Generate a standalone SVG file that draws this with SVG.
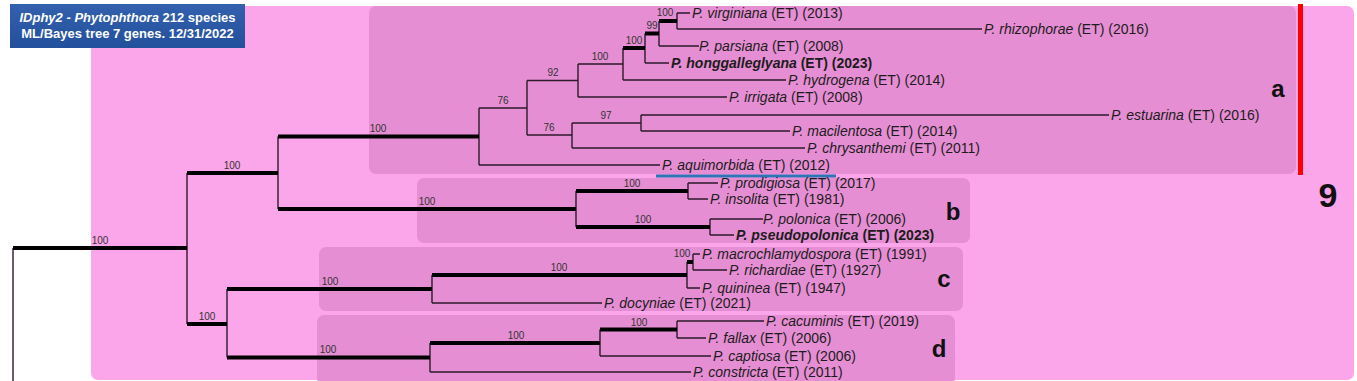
<svg xmlns="http://www.w3.org/2000/svg" width="1357" height="381" viewBox="0 0 1357 381">
<defs>
<linearGradient id="tg" x1="0" y1="0" x2="0" y2="1"><stop offset="0" stop-color="#3461AE"/><stop offset="1" stop-color="#23509B"/></linearGradient>
<style>
.leaf{font-family:"Liberation Sans",Arial,sans-serif;font-size:14px;fill:#1c1c1c}
.sp{font-style:italic}
.b{font-weight:bold}
.bs{font-family:"Liberation Sans",Arial,sans-serif;font-size:10px;fill:#333;text-anchor:middle}
.thin{stroke:#2d1a2d;stroke-width:1.4;fill:none}
.thick{stroke:#000;stroke-width:4;fill:none}
.cl{font-family:"Liberation Sans",Arial,sans-serif;font-weight:bold;font-size:24px;fill:#111;text-anchor:middle}
.box{fill:#E68ED3}
.title{font-family:"Liberation Sans",Arial,sans-serif;font-weight:bold;font-size:13px;fill:#fff;text-anchor:middle}
</style>
</defs>
<rect width="1357" height="381" fill="#fff"/>
<rect x="91" y="6" width="1263" height="374" rx="7" fill="#FBA5EB"/>
<rect class="box" x="369" y="6" width="927" height="168" rx="7"/>
<rect class="box" x="417" y="178" width="553" height="65" rx="7"/>
<rect class="box" x="319" y="247" width="644" height="64" rx="7"/>
<rect class="box" x="317" y="315" width="638" height="70" rx="7"/>
<rect x="1298" y="4" width="5" height="171" fill="#FF0000"/>
<rect x="656" y="174.5" width="180" height="3" fill="#2E75B6"/>
<g id="title">
<rect x="10" y="4" width="235" height="44" fill="url(#tg)"/>
<text class="title" x="127.5" y="22"><tspan font-style="italic">IDphy2 - Phytophthora</tspan> 212 species</text>
<text class="title" x="127.5" y="38">ML/Bayes tree 7 genes. 12/31/2022</text>
</g>
<g id="connectors">
<path class="thin" d="M13 248V381M187 173V324M278 136.5V209M479 108V165M527 80.5V135M578 64V97M623 48V80M645 33.5V63M659 21V46M677 13V29M572 123V148M641 115V131M576 191V227M688 183V199M710 219V235M227 289V357.5M432 275V303M687 262V288M693 254V270M430 343V372M600 329.5V356M677 321V338"/>
<path class="thick" d="M13 248H187M187 173H278M278 136.5H479M278 209H576M187 324H227M227 289H432M227 357.5H430M623 48H645M645 33.5H659M659 21H677M576 191H688M576 227H710M432 275H687M687 262H693M430 343H600M600 329.5H677"/>
<path class="thin" d="M479 108H527M527 80.5H578M578 64H623M527 135H572M572 123H641"/>
<path class="thin" d="M677 13H690M677 29H982M659 46H699M645 63H669M623 80H786M578 97H727M641 115H1109M641 131H790M572 148H805M479 165H660M688 183H718M688 199H708M710 219H763M710 235H734M693 254H700M693 270H727M687 288H700M432 303H602M677 321H764M677 338H706M600 356H711M430 372H691"/>
</g>
<g id="support">
<text class="bs" x="100" y="244">100</text>
<text class="bs" x="232" y="169">100</text>
<text class="bs" x="378" y="132">100</text>
<text class="bs" x="427" y="205">100</text>
<text class="bs" x="207" y="320">100</text>
<text class="bs" x="330" y="285">100</text>
<text class="bs" x="328" y="353">100</text>
<text class="bs" x="503" y="104">76</text>
<text class="bs" x="553" y="76">92</text>
<text class="bs" x="600" y="60">100</text>
<text class="bs" x="634" y="44">100</text>
<text class="bs" x="652" y="29">99</text>
<text class="bs" x="665" y="16">100</text>
<text class="bs" x="549" y="131">76</text>
<text class="bs" x="606" y="119">97</text>
<text class="bs" x="632" y="187">100</text>
<text class="bs" x="643" y="223">100</text>
<text class="bs" x="559" y="271">100</text>
<text class="bs" x="682" y="257">100</text>
<text class="bs" x="516" y="339">100</text>
<text class="bs" x="639" y="326">100</text>
</g>
<g id="virginiana"><text class="leaf" x="692" y="18"><tspan class="sp">P. virginiana</tspan> (ET) (2013)</text></g>
<g id="rhizophorae"><text class="leaf" x="984" y="34"><tspan class="sp">P. rhizophorae</tspan> (ET) (2016)</text></g>
<g id="parsiana"><text class="leaf" x="699" y="51"><tspan class="sp">P. parsiana</tspan> (ET) (2008)</text></g>
<g id="honggalleglyana"><text class="leaf b" x="671" y="68"><tspan class="sp">P. honggalleglyana</tspan> (ET) (2023)</text></g>
<g id="hydrogena"><text class="leaf" x="788" y="85"><tspan class="sp">P. hydrogena</tspan> (ET) (2014)</text></g>
<g id="irrigata"><text class="leaf" x="729" y="102"><tspan class="sp">P. irrigata</tspan> (ET) (2008)</text></g>
<g id="estuarina"><text class="leaf" x="1111" y="120"><tspan class="sp">P. estuarina</tspan> (ET) (2016)</text></g>
<g id="macilentosa"><text class="leaf" x="792" y="136"><tspan class="sp">P. macilentosa</tspan> (ET) (2014)</text></g>
<g id="chrysanthemi"><text class="leaf" x="807" y="153"><tspan class="sp">P. chrysanthemi</tspan> (ET) (2011)</text></g>
<g id="aquimorbida"><text class="leaf" x="662" y="170"><tspan class="sp">P. aquimorbida</tspan> (ET) (2012)</text></g>
<g id="prodigiosa"><text class="leaf" x="720" y="188"><tspan class="sp">P. prodigiosa</tspan> (ET) (2017)</text></g>
<g id="insolita"><text class="leaf" x="710" y="204"><tspan class="sp">P. insolita</tspan> (ET) (1981)</text></g>
<g id="polonica"><text class="leaf" x="763" y="224"><tspan class="sp">P. polonica</tspan> (ET) (2006)</text></g>
<g id="pseudopolonica"><text class="leaf b" x="736" y="240"><tspan class="sp">P. pseudopolonica</tspan> (ET) (2023)</text></g>
<g id="macrochlamydospora"><text class="leaf" x="702" y="259"><tspan class="sp">P. macrochlamydospora</tspan> (ET) (1991)</text></g>
<g id="richardiae"><text class="leaf" x="729" y="275"><tspan class="sp">P. richardiae</tspan> (ET) (1927)</text></g>
<g id="quininea"><text class="leaf" x="702" y="293"><tspan class="sp">P. quininea</tspan> (ET) (1947)</text></g>
<g id="docyniae"><text class="leaf" x="604" y="308"><tspan class="sp">P. docyniae</tspan> (ET) (2021)</text></g>
<g id="cacuminis"><text class="leaf" x="766" y="326"><tspan class="sp">P. cacuminis</tspan> (ET) (2019)</text></g>
<g id="fallax"><text class="leaf" x="708" y="343"><tspan class="sp">P. fallax</tspan> (ET) (2006)</text></g>
<g id="captiosa"><text class="leaf" x="713" y="361"><tspan class="sp">P. captiosa</tspan> (ET) (2006)</text></g>
<g id="constricta"><text class="leaf" x="693" y="377"><tspan class="sp">P. constricta</tspan> (ET) (2011)</text></g>
<g id="clade-a"><text class="cl" x="1278" y="97">a</text></g>
<g id="clade-b"><text class="cl" x="953" y="220">b</text></g>
<g id="clade-c"><text class="cl" x="944" y="287">c</text></g>
<g id="clade-d"><text class="cl" x="939" y="357">d</text></g>
<g id="group-9"><text class="cl" x="1328" y="207" style="font-size:34px">9</text></g>
</svg>
